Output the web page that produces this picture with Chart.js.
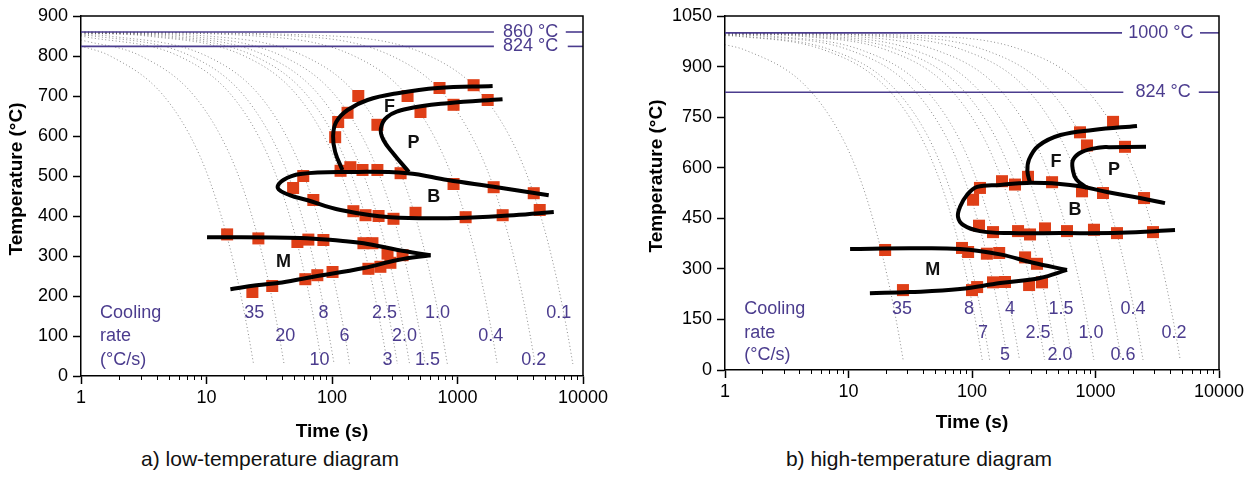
<!DOCTYPE html>
<html>
<head>
<meta charset="utf-8">
<script src="https://cdn.jsdelivr.net/npm/chart.js@4.4.1/dist/chart.umd.min.js"></script>
<style>
  html, body { margin: 0; padding: 0; background: #fff; }
  body { width: 1255px; height: 477px; position: relative; overflow: hidden;
         font-family: 'Liberation Sans', Arial, sans-serif; }
  canvas { position: absolute; top: 0; }
  #cctA { left: 0; }
  #cctB { left: 640px; }
  .cap { position: absolute; top: 447px; font-size: 21px; color: #111;
         white-space: nowrap; transform: translateX(-50%); }
</style>
</head>
<body>
<canvas id="cctA" width="620" height="447"></canvas>
<canvas id="cctB" width="615" height="447"></canvas>
<div class="cap" style="left:270px">a) low-temperature diagram</div>
<div class="cap" style="left:919px">b) high-temperature diagram</div>
<script>
/* ─── Shared look ────────────────────────────────────────────────────────── */
const FONT   = "'Liberation Sans', Arial, sans-serif";
const PURPLE = '#4b3c8e';
const RED    = '#df3f17';

const timeTicks  = [1, 10, 100, 1000, 10000];
const tempTicksA = [0, 100, 200, 300, 400, 500, 600, 700, 800, 900];
const tempTicksB = [0, 150, 300, 450, 600, 750, 900, 1050];

const rateTitle = ['Cooling', 'rate', '(°C/s)'];
const regionNames = ['F', 'P', 'B', 'M'];

/* ─── a) low-temperature diagram ─────────────────────────────────────────── */
const isoTempA   = [860, 824];
const isoCutA    = [[1950, 7290], [1950, 7560]];   // line gap around the label
const isoLabelA  = ['860 °C', '824 °C'];
const isoLabelTA = [3830, 3830];

const coolRatesA = ['35', '20', '10', '8', '6', '3', '2.5', '2.0', '1.5', '1.0', '0.4', '0.2', '0.1'];
const coolCurvesA = [
  [[1,825],[1.71,800],[4.57,700],[8.86,550],[13.1,400],[17.4,250],[21.7,100],[23.7,30]],
  [[1,840],[3,800],[8,700],[15.5,550],[23,400],[30.5,250],[38,100],[41.5,30]],
  [[1,850],[6,800],[16,700],[31,550],[46,400],[61,250],[76,100],[83,30]],
  [[1,852],[1.25,850],[7.5,800],[20,700],[38.8,550],[57.5,400],[76.3,250],[95,100],[104,30]],
  [[1,854],[1.67,850],[10,800],[26.7,700],[51.7,550],[76.7,400],[102,250],[127,100],[138,30]],
  [[1,857],[3.33,850],[20,800],[53.3,700],[103,550],[153,400],[203,250],[253,100],[277,30]],
  [[1,857.5],[4,850],[24,800],[64,700],[124,550],[184,400],[244,250],[304,100],[332,30]],
  [[1,858],[5,850],[30,800],[80,700],[155,550],[230,400],[305,250],[380,100],[415,30]],
  [[1,858.5],[6.67,850],[40,800],[107,700],[207,550],[307,400],[407,250],[507,100],[553,30]],
  [[1,859],[10,850],[60,800],[160,700],[310,550],[460,400],[610,250],[760,100],[830,30]],
  [[1,859.6],[25,850],[150,800],[400,700],[775,550],[1150,400],[1525,250],[1900,100],[2075,30]],
  [[1,859.8],[50,850],[300,800],[800,700],[1550,550],[2300,400],[3050,250],[3800,100],[4150,30]],
  [[1,859.9],[100,850],[600,800],[1600,700],[3100,550],[4600,400],[6100,250],[7600,100],[8300,30]],
];
const rateLabelsA = ['35', '20', '10', '8', '6', '2.5', '2.0', '3', '1.0', '1.5', '0.4', '0.2', '0.1'];
const rateLabelTA = [24, 42.5, 79.4, 85.4, 126, 262, 378, 277, 694, 577, 1837, 4050, 6412];
const rateLabelYA = [157, 100, 40, 157, 100, 157, 100, 40, 157, 40, 100, 40, 157];
const rateTitleTA = 1.42;
const rateTitleYA = [157, 100, 40];

const ferriteA  = [[121,515],[106,560],[102,600],[108,635],[133,665],[192,690],[333,707],[694,720],[1905,725]];
const pearliteA = [[410,510],[310,555],[257,590],[245,618],[276,648],[400,668],[832,682],[2285,692]];
const bainiteA  = [[5333,452],[1941,473],[834,490],[400,507],[133,510],[56,505],[41,490],[37,470],[46,452],[63,440],[117,415],[293,397],[1000,395],[2805,402],[5850,410]];
const martTopA  = [[10.1,347],[56,345],[117,338],[179,332],[334,315],[610,302]];
const martBotA  = [[610,302],[334,290],[179,270],[71,248],[40,234],[25,227],[15.5,217]];

const measuredA = [
  [106,597],[112,635],[133,658],[162,700],[230,628],[400,700],[507,660],[719,720],[930,678],[1344,727],[1740,690],
  [59,500],[49,470],[71,440],[117,513],[140,522],[175,515],[230,515],[352,507],[148,412],[185,402],[235,400],
  [309,393],[463,408],[930,480],[1161,397],[1941,472],[2290,402],[4050,457],[4520,415],
  [14.6,354],[25.9,344],[53,335],[64.8,341],[85.4,340],[178,332],[210,332],[277,306],[365,302],
  [23.2,210],[33.4,225],[61.3,242],[76.4,252],[101,260],[195,268],[243,273],[292,283],
];
const regionTA = [287, 446, 646, 41];
const regionYA = [672, 582, 448, 285];

/* ─── b) high-temperature diagram ────────────────────────────────────────── */
const isoTempB   = [1000, 824];
const isoCutB    = [[1640, 7015], [1680, 6860]];
const isoLabelB  = ['1000 °C', '824 °C'];
const isoLabelTB = [3388, 3523];

const coolRatesB = ['35', '8', '7', '5', '4', '2.5', '2.0', '1.5', '1.0', '0.6', '0.4', '0.2'];
const coolCurvesB = [
  [[1,965],[1.43,950],[4.29,850],[8.57,700],[12.9,550],[17.1,400],[21.4,250],[25.7,100],[27.7,30]],
  [[1,992],[1.25,990],[6.25,950],[18.75,850],[37.5,700],[56.3,550],[75,400],[93.8,250],[112.5,100],[121,30]],
  [[1,993],[1.43,990],[7.14,950],[21.4,850],[42.9,700],[64.3,550],[85.7,400],[107,250],[129,100],[139,30]],
  [[1,995],[2,990],[10,950],[30,850],[60,700],[90,550],[120,400],[150,250],[180,100],[194,30]],
  [[1,996],[2.5,990],[12.5,950],[37.5,850],[75,700],[112.5,550],[150,400],[187.5,250],[225,100],[242.5,30]],
  [[1,997.5],[4,990],[20,950],[60,850],[120,700],[180,550],[240,400],[300,250],[360,100],[388,30]],
  [[1,998],[5,990],[25,950],[75,850],[150,700],[225,550],[300,400],[375,250],[450,100],[485,30]],
  [[1,998.5],[6.67,990],[33.3,950],[100,850],[200,700],[300,550],[400,400],[500,250],[600,100],[647,30]],
  [[1,999],[10,990],[50,950],[150,850],[300,700],[450,550],[600,400],[750,250],[900,100],[970,30]],
  [[1,999.4],[16.7,990],[83.3,950],[250,850],[500,700],[750,550],[1000,400],[1250,250],[1500,100],[1617,30]],
  [[1,999.6],[25,990],[125,950],[375,850],[750,700],[1125,550],[1500,400],[1875,250],[2250,100],[2425,30]],
  [[1,999.8],[50,990],[250,950],[750,850],[1500,700],[2250,550],[3000,400],[3750,250],[4500,100],[4850,30]],
];
const rateLabelsB = ['35', '8', '4', '1.5', '0.4', '7', '2.5', '1.0', '0.2', '5', '2.0', '0.6'];
const rateLabelTB = [27.1, 94.6, 203, 526, 2013, 123, 342, 920, 4323, 185, 516, 1671];
const rateLabelYB = [181, 181, 181, 181, 181, 110, 110, 110, 110, 44.5, 44.5, 44.5];
const rateTitleTB = 1.43;
const rateTitleYB = [181, 110, 44.5];

const ferriteB  = [[295,555],[281,590],[290,625],[345,665],[520,697],[955,712],[2168,724]];
const pearliteB = [[853,540],[700,565],[658,590],[658,623],[778,647],[1087,660],[1300,661],[2564,662]];
const bainiteB  = [[3654,495],[2292,510],[1240,528],[749,545],[516,552],[279,555],[169,549],[110,543],[91,519],[80,484],[77,454],[85,430],[116,412],[203,406],[516,406],[1579,407],[4404,415]];
const martTopB  = [[10.3,359],[31.5,361],[80,359],[169,343],[312,318],[588,297]];
const martBotB  = [[588,297],[355,273],[169,258],[80,240],[31.5,231],[14.9,228]];

const measuredB = [
  [19.8,356],[27.6,237],[83,362],[93,350],[132,345],[166,347],[269,334],[336,315],
  [100,237],[110,246],[148,260],[185,261],[290,252],[369,260],
  [102,505],[116,540],[175,560],[223,550],[284,573],[445,557],[778,530],[1150,525],[2472,510],
  [114,428],[148,409],[236,412],[295,402],[390,420],[588,412],[972,416],[1493,406],[2922,409],
  [749,705],[1387,736],[853,666],[1733,662],
];
const regionTB = [479, 1415, 683, 48];
const regionYB = [617, 593, 475, 297];

/* ─── Helpers ─────────────────────────────────────────────────────────────── */
const pts = arr => arr.map(([x, y]) => ({ x, y }));

function boundary(data) {
  return { data: pts(data), showLine: true, pointRadius: 0, borderColor: '#000',
           borderWidth: 4, tension: 0.4, order: 0 };
}
function coolingLine(data) {
  return { data: pts(data), showLine: true, pointRadius: 0, borderColor: 'rgba(80,80,80,0.65)',
           borderWidth: 1, borderDash: [1, 2.5], cubicInterpolationMode: 'monotone', order: 3 };
}
function isoLine(T, from, to) {
  return { data: pts([[from, T], [to, T]]), showLine: true, pointRadius: 0,
           borderColor: PURPLE, borderWidth: 1.6, order: 2 };
}

// frame, minor time ticks, y title and text annotations placed through the scales
const cctDecor = {
  id: 'cctDecor',
  afterDatasetsDraw(chart, args, opts) {
    const { ctx, chartArea: a, scales: { x, y } } = chart;
    ctx.save();
    ctx.strokeStyle = '#000';
    ctx.lineWidth = 1.5;
    ctx.beginPath();
    ctx.moveTo(a.left, a.top); ctx.lineTo(a.right, a.top); ctx.lineTo(a.right, a.bottom);
    ctx.stroke();
    ctx.lineWidth = 1;
    for (const d of timeTicks.slice(0, -1)) {
      for (let k = 2; k < 10; k++) {
        const px = Math.round(x.getPixelForValue(d * k)) + 0.5;
        ctx.beginPath(); ctx.moveTo(px, a.bottom); ctx.lineTo(px, a.bottom + 4); ctx.stroke();
      }
    }
    ctx.textBaseline = 'middle';
    for (const t of opts.texts) {
      ctx.font = t.font;
      ctx.fillStyle = t.color;
      ctx.textAlign = t.align || 'center';
      ctx.fillText(t.text, x.getPixelForValue(t.t), y.getPixelForValue(t.T));
    }
    // y title sits a little above the plot centre, as in the source figure
    ctx.translate(17, (a.top + a.bottom) / 2 - 17);
    ctx.rotate(-Math.PI / 2);
    ctx.textAlign = 'center';
    ctx.fillStyle = '#000';
    ctx.font = `bold 19px ${FONT}`;
    ctx.fillText('Temperature (°C)', 0, 0);
    ctx.restore();
  },
};

function buildTexts(s) {
  const purple = `18px ${FONT}`;
  const texts = [];
  s.isoLabel.forEach((txt, i) => texts.push({ text: txt, t: s.isoLabelT[i], T: s.isoTemp[i], font: purple, color: PURPLE }));
  s.rateLabels.forEach((txt, i) => texts.push({ text: txt, t: s.rateLabelT[i], T: s.rateLabelY[i], font: purple, color: PURPLE }));
  rateTitle.forEach((txt, i) => texts.push({ text: txt, t: s.rateTitleT, T: s.rateTitleY[i], font: purple, color: PURPLE, align: 'left' }));
  regionNames.forEach((txt, i) => texts.push({ text: txt, t: s.regionT[i], T: s.regionY[i], font: `bold 18px ${FONT}`, color: '#111' }));
  return texts;
}

function cctChart(id, s) {
  const datasets = [
    boundary(s.ferrite), boundary(s.pearlite), boundary(s.bainite),
    boundary(s.martTop), boundary(s.martBot),
    { data: pts(s.measured), showLine: false, pointStyle: 'rect', pointRadius: 8.5,
      pointBackgroundColor: RED, pointBorderWidth: 0, order: 1 },
  ];
  s.isoTemp.forEach((T, i) => {
    datasets.push(isoLine(T, 1, s.isoCut[i][0]));
    datasets.push(isoLine(T, s.isoCut[i][1], 10000));
  });
  s.coolCurves.forEach(c => datasets.push(coolingLine(c)));

  return new Chart(document.getElementById(id), {
    type: 'scatter',
    data: { datasets },
    plugins: [cctDecor],
    options: {
      responsive: false, animation: false, devicePixelRatio: 1,
      layout: { padding: { left: 0, top: 16, right: s.padRight, bottom: s.padBottom } },
      plugins: { legend: { display: false }, tooltip: { enabled: false },
                 cctDecor: { texts: buildTexts(s) } },
      scales: {
        x: {
          type: 'logarithmic', min: 1, max: 10000,
          afterBuildTicks: sc => { sc.ticks = timeTicks.map(v => ({ value: v })); },
          afterFit: sc => { sc.height = s.xHeight; },
          grid: { drawOnChartArea: false, tickLength: 8, tickColor: '#000', tickWidth: 1.5 },
          border: { color: '#000', width: 1.5 },
          ticks: { autoSkip: false, maxRotation: 0, padding: 3, color: '#000',
                   font: { family: FONT, size: 18 }, callback: v => String(v) },
          title: { display: true, text: 'Time (s)', color: '#000',
                   font: { family: FONT, size: 19, weight: 'bold' } },
        },
        y: {
          min: 0, max: s.yMax,
          afterBuildTicks: sc => { sc.ticks = s.yTicks.map(v => ({ value: v })); },
          afterFit: sc => { sc.width = s.yWidth; },
          grid: { drawOnChartArea: false, tickLength: 8, tickColor: '#000', tickWidth: 1.5 },
          border: { color: '#000', width: 1.5 },
          ticks: { padding: 5, color: '#000', font: { family: FONT, size: 18 },
                   callback: v => String(v) },
        },
      },
    },
  });
}

/* ─── Build both diagrams ────────────────────────────────────────────────── */
cctChart('cctA', {
  yMax: 900, yTicks: tempTicksA, yWidth: 81, xHeight: 71, padRight: 37, padBottom: 0,
  isoTemp: isoTempA, isoCut: isoCutA, isoLabel: isoLabelA, isoLabelT: isoLabelTA,
  coolCurves: coolCurvesA,
  rateLabels: rateLabelsA, rateLabelT: rateLabelTA, rateLabelY: rateLabelYA,
  rateTitleT: rateTitleTA, rateTitleY: rateTitleYA,
  ferrite: ferriteA, pearlite: pearliteA, bainite: bainiteA, martTop: martTopA, martBot: martBotA,
  measured: measuredA, regionT: regionTA, regionY: regionYA,
});

cctChart('cctB', {
  yMax: 1050, yTicks: tempTicksB, yWidth: 85, xHeight: 68, padRight: 36, padBottom: 9,
  isoTemp: isoTempB, isoCut: isoCutB, isoLabel: isoLabelB, isoLabelT: isoLabelTB,
  coolCurves: coolCurvesB,
  rateLabels: rateLabelsB, rateLabelT: rateLabelTB, rateLabelY: rateLabelYB,
  rateTitleT: rateTitleTB, rateTitleY: rateTitleYB,
  ferrite: ferriteB, pearlite: pearliteB, bainite: bainiteB, martTop: martTopB, martBot: martBotB,
  measured: measuredB, regionT: regionTB, regionY: regionYB,
});
</script>
</body>
</html>
